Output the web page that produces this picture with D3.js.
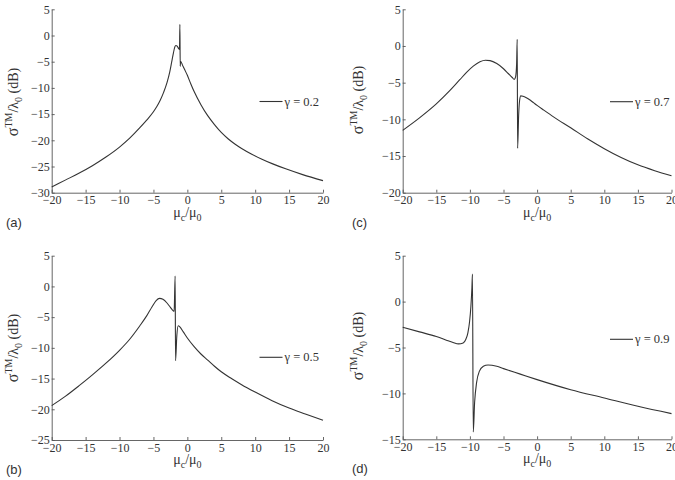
<!DOCTYPE html>
<html>
<head>
<meta charset="utf-8">
<script src="https://cdn.jsdelivr.net/npm/d3@7"></script>
<style>
    body { margin: 0; background: #fff; }
    svg { display: block; }
    .tick line, .domain { stroke: #555; stroke-width: 0.9; }
</style>
</head>
<body>
<svg id="svg" width="675" height="480"></svg>
<script>
const SERIF = '"Liberation Serif", "Times New Roman", Times, serif'
const SANS = '"Liberation Sans", Arial, sans-serif'

// Tick values
const xTicks = [-20, -15, -10, -5, 0, 5, 10, 15, 20]
const yTicksA = [-30, -25, -20, -15, -10, -5, 0, 5]
const yTicksB = [-25, -20, -15, -10, -5, 0, 5]
const yTicksC = [-20, -15, -10, -5, 0, 5]
const yTicksD = [-15, -10, -5, 0, 5]

const panelLabels = ['(a)', '(b)', '(c)', '(d)']
const gammas = ['0.2', '0.5', '0.7', '0.9']

// [mu_c/mu_0, sigma/lambda (dB)]
const curveA = [
    [-20, -28.9], [-18, -27.6], [-16, -26.3], [-14, -24.85], [-12, -23.2],
    [-10, -21.3], [-8.5, -19.6], [-7, -17.6], [-6, -16.15], [-5, -14.55],
    [-4.5, -13.55], [-4, -12.35], [-3.5, -10.85], [-3, -9.0], [-2.6, -7.0],
    [-2.3, -5.0], [-2.05, -3.3], [-1.85, -2.2], [-1.7, -1.9], [-1.5, -2.05],
    [-1.3, -2.45], [-1.16, -2.65], [-1.1, 2.1], [-1.05, -5.9], [-1.0, -4.9],
    [-0.7, -5.7], [-0.4, -6.5], [0, -7.6], [0.5, -9.2], [1, -10.7],
    [2, -13.2], [3, -15.3], [4, -17.0], [5, -18.5], [6, -19.7],
    [7, -20.7], [8, -21.55], [9.5, -22.65], [11, -23.6], [12.5, -24.45],
    [14.5, -25.45], [17, -26.55], [20, -27.7],
]
const curveB = [
    [-20, -19.4], [-18, -17.9], [-16, -16.2], [-14, -14.4], [-12, -12.5],
    [-10, -10.4], [-8.5, -8.6], [-7, -6.4], [-6, -4.8], [-5.2, -3.3],
    [-4.6, -2.3], [-4.1, -1.95], [-3.6, -2.1], [-3.0, -2.7], [-2.5, -3.4],
    [-2.15, -3.9], [-1.95, -4.05], [-1.8, 1.7], [-1.74, -12.1], [-1.55, -8.0],
    [-1.35, -6.4], [-1.1, -6.6], [-0.6, -7.4], [0, -8.4], [1, -9.8],
    [2, -11.0], [3, -12.0], [4, -13.0], [5, -13.9], [6.5, -15.0],
    [8, -16.0], [10, -17.2], [12.5, -18.6], [15, -19.8], [17.5, -20.8],
    [20, -21.8],
]
const curveC = [
    [-20, -11.5], [-17.5, -9.8], [-15, -7.9], [-13, -6.1], [-11.5, -4.6],
    [-10.5, -3.6], [-9.5, -2.75], [-8.5, -2.15], [-7.7, -1.95], [-7, -2.0],
    [-6, -2.4], [-5, -3.1], [-4.3, -3.75], [-3.7, -4.3], [-3.4, -4.55],
    [-3.2, -4.2], [-3.05, -2.5], [-2.96, 0.9], [-2.9, -13.95], [-2.75, -9.5],
    [-2.6, -7.4], [-2.43, -6.8], [-2.1, -6.85], [-1.6, -7.05], [-1.0, -7.4],
    [-0.5, -7.75], [0, -8.1], [1, -8.75], [2.5, -9.7], [5, -11.15],
    [7.5, -12.65], [10, -14.0], [12.5, -15.2], [15, -16.2], [17.5, -17.0],
    [20, -17.7],
]
const curveD = [
    [-20, -2.8], [-17.5, -3.3], [-15, -3.8], [-13.5, -4.2], [-12.5, -4.45],
    [-11.7, -4.6], [-11, -4.5], [-10.6, -4.1], [-10.3, -3.4], [-10.05, -2.2],
    [-9.85, -0.5], [-9.7, 1.5], [-9.62, 3.0], [-9.5, -14.2], [-9.3, -11.0],
    [-9.0, -8.8], [-8.6, -7.6], [-8.0, -7.05], [-7.3, -6.9], [-6, -7.05],
    [-5, -7.3], [-2.5, -7.9], [0, -8.5], [5, -9.6], [10, -10.5],
    [15, -11.4], [20, -12.2],
]

// Layout
const panels = [
    { curve: curveA, yTicks: yTicksA, gamma: gammas[0], label: panelLabels[0],
      left: 51.7, right: 323, top: 9.3, bottom: 192.7, legend: [259.5, 101.5], ylabelX: 18, ylabelY: 102, letterX: 6 },
    { curve: curveB, yTicks: yTicksB, gamma: gammas[1], label: panelLabels[1],
      left: 51.7, right: 323, top: 255.7, bottom: 440, legend: [259.5, 357.3], ylabelX: 18, ylabelY: 348, letterX: 6 },
    { curve: curveC, yTicks: yTicksC, gamma: gammas[2], label: panelLabels[2],
      left: 402.7, right: 671.5, top: 9.3, bottom: 192.7, legend: [610, 101.7], ylabelX: 363, ylabelY: 100, letterX: 352 },
    { curve: curveD, yTicks: yTicksD, gamma: gammas[3], label: panelLabels[3],
      left: 402.7, right: 671.5, top: 255.7, bottom: 439.3, legend: [610, 339.3], ylabelX: 363, ylabelY: 346, letterX: 352 },
]

const svg = d3.select('#svg')

const styleTicks = (g) => g.selectAll('.tick text')
    .attr('font-family', SERIF)
    .attr('font-size', 12)
    .attr('fill', '#333')

const drawPanel = (p) => {
    const x = d3.scaleLinear().domain([-20, 20]).range([p.left, p.right])
    const y = d3.scaleLinear().domain(d3.extent(p.yTicks)).range([p.bottom, p.top])
    const g = svg.append('g')

    // Axes, ticks pointing inward
    g.append('g')
        .attr('transform', `translate(0,${p.bottom})`)
        .call(d3.axisBottom(x).tickValues(xTicks).tickFormat(d3.format('d'))
            .tickSizeInner(-3).tickSizeOuter(0).tickPadding(3))
        .call(styleTicks)
    g.append('g')
        .attr('transform', `translate(${p.left},0)`)
        .call(d3.axisLeft(y).tickValues(p.yTicks).tickFormat(d3.format('d'))
            .tickSizeInner(-3).tickSizeOuter(0).tickPadding(2))
        .call(styleTicks)

    // Curve
    const line = d3.line()
        .x((d) => x(d[0]))
        .y((d) => y(d[1]))
        .curve(d3.curveMonotoneX)

    g.append('path')
        .datum(p.curve)
        .attr('fill', 'none')
        .attr('stroke', '#333')
        .attr('stroke-width', 1.1)
        .attr('stroke-linejoin', 'round')
        .attr('d', line)

    // Legend
    g.append('line')
        .attr('x1', p.legend[0]).attr('x2', p.legend[0] + 23)
        .attr('y1', p.legend[1]).attr('y2', p.legend[1])
        .attr('stroke', '#333').attr('stroke-width', 1.1)
    g.append('text')
        .attr('font-family', SERIF)
        .attr('fill', '#333')
        .attr('x', p.legend[0] + 25)
        .attr('y', p.legend[1] + 4)
        .attr('font-size', 12.5)
        .text(`γ = ${p.gamma}`)

    // x label  mu_c / mu_0
    const xl = g.append('text')
        .attr('font-family', SERIF)
        .attr('fill', '#333')
        .attr('x', x(0))
        .attr('y', p.bottom + 24)
        .attr('text-anchor', 'middle')
        .attr('font-size', 14)
    xl.append('tspan').text('μ')
    xl.append('tspan').attr('dy', 4).attr('font-size', 10).text('c')
    xl.append('tspan').attr('dy', -4).text('/μ')
    xl.append('tspan').attr('dy', 4).attr('font-size', 10).text('0')

    // y label  sigma^TM / lambda_0 (dB)
    const yl = g.append('text')
        .attr('font-family', SERIF)
        .attr('fill', '#333')
        .attr('transform', `translate(${p.ylabelX},${p.ylabelY}) rotate(-90)`)
        .attr('text-anchor', 'middle')
        .attr('font-size', 14)
    yl.append('tspan').attr('font-size', 16).text('σ')
    yl.append('tspan').attr('dy', -6).attr('font-size', 10).text('TM')
    yl.append('tspan').attr('dy', 6).text('/λ')
    yl.append('tspan').attr('dy', 4).attr('font-size', 10).text('0')
    yl.append('tspan').attr('dy', -4).text(' (dB)')

    // Panel letter
    g.append('text')
        .attr('font-family', SANS)
        .attr('fill', '#333')
        .attr('x', p.letterX)
        .attr('y', p.bottom + 34)
        .attr('font-size', 13)
        .text(p.label)
}

panels.forEach(drawPanel)
</script>
</body>
</html>
